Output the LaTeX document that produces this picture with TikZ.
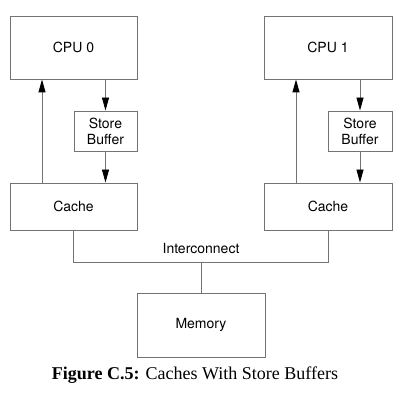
\documentclass[tikz,border=0pt]{standalone}
\usepackage{fontspec}
\setsansfont{TeX Gyre Heros}
\newfontfamily\captionfont{Liberation Serif}
\usetikzlibrary{arrows.meta,positioning}

\begin{document}
\begin{tikzpicture}[x=1pt,y=-1pt,>={Triangle[length=13pt,width=7pt,color=black]},
                    unit/.style={draw=black!55,line width=0.9pt,inner sep=0pt,
                      font=\sffamily\fontsize{14}{16}\selectfont,align=center},
                    wire/.style={draw=black!55,line width=0.9pt}]
  \useasboundingbox (0,0) rectangle (405,393);
  % processors
  \node[unit,minimum width=127pt,minimum height=63pt] (cpu0) at (73.5,47.5) {CPU 0};
  \node[unit,minimum width=128pt,minimum height=63pt] (cpu1) at (328,47.5) {CPU 1};
  % store buffers
  \node[unit,minimum width=63pt,minimum height=40pt] (sb0) at (105.5,131) {Store\\Buffer};
  \node[unit,minimum width=64pt,minimum height=40pt] (sb1) at (360,131) {Store\\Buffer};
  % caches
  \node[unit,minimum width=127pt,minimum height=47pt] (cache0) at (73.5,206.5) {Cache};
  \node[unit,minimum width=128pt,minimum height=47pt] (cache1) at (328,206.5) {Cache};
  % memory
  \node[unit,minimum width=128pt,minimum height=64pt] (mem) at (201,325) {Memory};
  \coordinate (bus) at (201,262);
  \coordinate (up0) at (42,0);
  \coordinate (up1) at (296,0);
  \node[unit,draw=none,anchor=base] (ic) at (201,254) {Interconnect};

  \draw[wire,->] (cache0.north -| up0) -- (cpu0.south -| up0);
  \draw[wire,->] (sb0 |- cpu0.south) -- (sb0.north);
  \draw[wire,->] (sb0.south) -- (sb0 |- cache0.north);
  \draw[wire,->] (cache1.north -| up1) -- (cpu1.south -| up1);
  \draw[wire,->] (sb1 |- cpu1.south) -- (sb1.north);
  \draw[wire,->] (sb1.south) -- (sb1 |- cache1.north);
  \draw[wire] (cache0.south) -- (cache0.south |- bus) -- (cache1.south |- bus)
              -- (cache1.south);
  \draw[wire] (mem.north) -- (bus);

  \node[font=\captionfont\fontsize{18}{20}\selectfont,anchor=base] (caption) at (195,379)
    {\textbf{Figure C.5:} Caches With Store Buffers};
\end{tikzpicture}
\end{document}
